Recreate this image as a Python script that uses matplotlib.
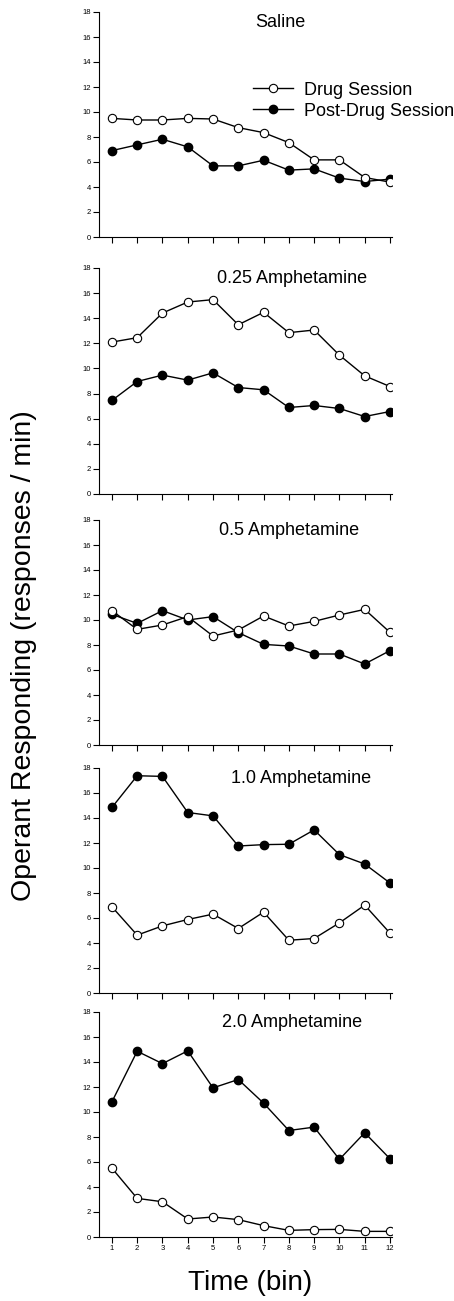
import numpy as np
import matplotlib
matplotlib.use('Agg')
import matplotlib.pyplot as plt

plt.rcParams['font.family'] = ['Liberation Sans', 'DejaVu Sans']

# Datos (respuestas / min por bin)
bins = list(range(1, 13))
titles = ['Saline', '0.25 Amphetamine', '0.5 Amphetamine', '1.0 Amphetamine', '2.0 Amphetamine']

drug_saline = [9.49, 9.36, 9.36, 9.49, 9.44, 8.75, 8.35, 7.55, 6.17, 6.17, 4.76, 4.39]
post_saline = [6.91, 7.37, 7.82, 7.21, 5.69, 5.69, 6.14, 5.35, 5.45, 4.71, 4.44, 4.63]

drug_025 = [12.10, 12.45, 14.41, 15.29, 15.48, 13.48, 14.47, 12.85, 13.06, 11.06, 9.41, 8.56]
post_025 = [7.45, 8.96, 9.47, 9.07, 9.65, 8.48, 8.30, 6.89, 7.05, 6.81, 6.17, 6.57]

drug_05 = [10.75, 9.25, 9.60, 10.27, 8.72, 9.20, 10.32, 9.52, 9.89, 10.40, 10.85, 9.01]
post_05 = [10.45, 9.73, 10.75, 10.00, 10.27, 8.99, 8.05, 7.92, 7.28, 7.28, 6.48, 7.55]

drug_10 = [6.90, 4.63, 5.37, 5.88, 6.31, 5.16, 6.47, 4.22, 4.36, 5.61, 7.03, 4.79]
post_10 = [14.84, 17.38, 17.33, 14.44, 14.17, 11.76, 11.87, 11.90, 13.05, 11.07, 10.32, 8.80]

drug_20 = [5.51, 3.09, 2.82, 1.44, 1.60, 1.39, 0.91, 0.53, 0.59, 0.61, 0.45, 0.45]
post_20 = [10.81, 14.86, 13.87, 14.89, 11.93, 12.60, 10.71, 8.52, 8.79, 6.21, 8.34, 6.26]

drug = [drug_saline, drug_025, drug_05, drug_10, drug_20]
post = [post_saline, post_025, post_05, post_10, post_20]

W, H = 454, 1301
fig = plt.figure(figsize=(W / 100, H / 100), dpi=100)

# posiciones de los paneles en píxeles (arriba, abajo)
panel_px = [(12, 237), (268, 494), (520, 745), (768, 993), (1012, 1237)]
left_px, right_px = 99, 392
title_x = [0.618, 0.659, 0.648, 0.689, 0.659]

for i, (top, bottom) in enumerate(panel_px):
    ax = fig.add_axes([left_px / W, 1 - bottom / H, (right_px - left_px) / W, (bottom - top) / H])
    ax.plot(bins, post[i], '-o', color='black', mfc='black', mec='black',
            ms=6, lw=1.0, label='Post-Drug Session', zorder=3)
    ax.plot(bins, drug[i], '-o', color='black', mfc='white', mec='black',
            ms=6, lw=1.0, mew=0.8, label='Drug Session', zorder=3)
    ax.set_xlim(0.49, 12.08)
    ax.set_ylim(0, 18)
    ax.set_yticks(np.arange(0, 19, 2))
    ax.set_xticks(bins)
    for s in ['top', 'right']:
        ax.spines[s].set_visible(False)
    for s in ['left', 'bottom']:
        ax.spines[s].set_linewidth(0.8)
    ax.tick_params(axis='both', length=4, width=0.8, labelsize=5.5, pad=2, colors='black')
    if i < 4:
        ax.set_xticklabels([])
    ax.text(title_x[i], 0.955, titles[i], transform=ax.transAxes, ha='center', va='center', fontsize=13)
    if i == 0:
        h, l = ax.get_legend_handles_labels()
        ax.legend([h[1], h[0]], [l[1], l[0]], loc='upper left', bbox_to_anchor=(0.526, 0.69),
                  frameon=False, fontsize=13, handlelength=2.2, handletextpad=0.6,
                  labelspacing=0.22, borderpad=0, borderaxespad=0)

fig.text(24 / W, 1 - 656 / H, 'Operant Responding (responses / min)', rotation=90,
         ha='center', va='center', fontsize=20.5)
fig.text(250 / W, 1 - 1283 / H, 'Time (bin)', ha='center', va='center', fontsize=20)

fig.savefig('out.png', dpi=100)
